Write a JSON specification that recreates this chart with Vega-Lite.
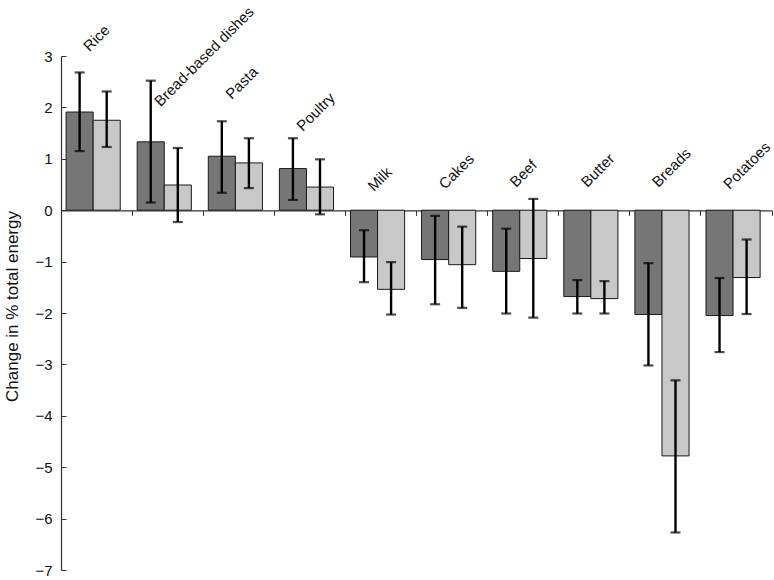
{
  "$schema": "https://vega.github.io/schema/vega-lite/v6.json",
  "autosize": "none",
  "width": 711,
  "height": 514,
  "padding": {"left": 61, "top": 56, "right": 2, "bottom": 10},
  "background": "white",
  "config": {
    "font": "Liberation Sans",
    "view": {"stroke": null}
  },
  "datasets": {
    "bars": [
      {"food": "Rice", "series": "A", "value": 1.91, "lo": 1.15, "hi": 2.68},
      {"food": "Rice", "series": "B", "value": 1.75, "lo": 1.23, "hi": 2.31},
      {"food": "Bread-based dishes", "series": "A", "value": 1.33, "lo": 0.15, "hi": 2.52},
      {"food": "Bread-based dishes", "series": "B", "value": 0.49, "lo": -0.23, "hi": 1.21},
      {"food": "Pasta", "series": "A", "value": 1.05, "lo": 0.34, "hi": 1.73},
      {"food": "Pasta", "series": "B", "value": 0.92, "lo": 0.43, "hi": 1.40},
      {"food": "Poultry", "series": "A", "value": 0.81, "lo": 0.20, "hi": 1.40},
      {"food": "Poultry", "series": "B", "value": 0.45, "lo": -0.08, "hi": 0.99},
      {"food": "Milk", "series": "A", "value": -0.91, "lo": -1.40, "hi": -0.39},
      {"food": "Milk", "series": "B", "value": -1.54, "lo": -2.03, "hi": -1.01},
      {"food": "Cakes", "series": "A", "value": -0.96, "lo": -1.83, "hi": -0.11},
      {"food": "Cakes", "series": "B", "value": -1.06, "lo": -1.90, "hi": -0.32},
      {"food": "Beef", "series": "A", "value": -1.19, "lo": -2.01, "hi": -0.36},
      {"food": "Beef", "series": "B", "value": -0.94, "lo": -2.09, "hi": 0.22},
      {"food": "Butter", "series": "A", "value": -1.68, "lo": -2.01, "hi": -1.36},
      {"food": "Butter", "series": "B", "value": -1.72, "lo": -2.01, "hi": -1.38},
      {"food": "Breads", "series": "A", "value": -2.03, "lo": -3.02, "hi": -1.03},
      {"food": "Breads", "series": "B", "value": -4.78, "lo": -6.27, "hi": -3.31},
      {"food": "Potatoes", "series": "A", "value": -2.05, "lo": -2.76, "hi": -1.32},
      {"food": "Potatoes", "series": "B", "value": -1.31, "lo": -2.02, "hi": -0.57}
    ],
    "labels": [
      {"food": "Rice", "labelLevel": 3.21},
      {"food": "Bread-based dishes", "labelLevel": 2.14},
      {"food": "Pasta", "labelLevel": 2.28},
      {"food": "Poultry", "labelLevel": 1.66},
      {"food": "Milk", "labelLevel": 0.49},
      {"food": "Cakes", "labelLevel": 0.53},
      {"food": "Beef", "labelLevel": 0.57},
      {"food": "Butter", "labelLevel": 0.57},
      {"food": "Breads", "labelLevel": 0.57},
      {"food": "Potatoes", "labelLevel": 0.53}
    ]
  },
  "encoding": {
    "x": {
      "field": "food",
      "type": "nominal",
      "sort": null,
      "scale": {"domain": ["Rice", "Bread-based dishes", "Pasta", "Poultry", "Milk", "Cakes", "Beef", "Butter", "Breads", "Potatoes"], "paddingInner": 0, "paddingOuter": 0},
      "axis": {
        "orient": "bottom",
        "offset": -359.6,
        "title": null,
        "labels": false,
        "bandPosition": 1,
        "tickSize": 5,
        "tickColor": "#333333",
        "tickWidth": 1,
        "domainColor": "#333333",
        "domainWidth": 1.2
      }
    }
  },
  "layer": [
    {
      "data": {"name": "bars"},
      "mark": {"type": "bar", "stroke": "#1a1a1a", "strokeWidth": 1},
      "encoding": {
        "xOffset": {
          "field": "series",
          "type": "nominal",
          "scale": {"domain": ["A", "B"], "paddingInner": 0, "paddingOuter": 0.313, "align": 0.3}
        },
        "y": {
          "field": "value",
          "type": "quantitative",
          "scale": {"domain": [-7, 3], "nice": false, "zero": false},
          "axis": {
            "title": "Change in % total energy",
            "titleFont": "Liberation Sans",
            "titleFontSize": 17,
            "titleFontWeight": "normal",
            "titleColor": "#111111",
            "titleX": -49,
            "titleY": 250,
            "titleAngle": -90,
            "titleAlign": "center",
            "titleBaseline": "middle",
            "values": [-7, -6, -5, -4, -3, -2, -1, 0, 1, 2, 3],
            "format": "d",
            "labelFontSize": 15,
            "labelColor": "#111111",
            "labelPadding": 14,
            "tickSize": -5,
            "tickColor": "#333333",
            "domainColor": "#333333",
            "domainWidth": 1.2,
            "grid": false
          }
        },
        "y2": {"datum": 0},
        "color": {
          "field": "series",
          "type": "nominal",
          "scale": {"domain": ["A", "B"], "range": ["#767676", "#c8c8c8"]},
          "legend": null
        }
      }
    },
    {
      "data": {"name": "bars"},
      "mark": {"type": "rule", "color": "#000000", "strokeWidth": 2.4},
      "encoding": {
        "xOffset": {"field": "series", "type": "nominal"},
        "y": {"field": "lo", "type": "quantitative"},
        "y2": {"field": "hi"}
      }
    },
    {
      "data": {"name": "bars"},
      "mark": {"type": "tick", "color": "#000000", "thickness": 2.2, "size": 10, "orient": "horizontal"},
      "encoding": {
        "xOffset": {"field": "series", "type": "nominal"},
        "y": {"field": "lo", "type": "quantitative"}
      }
    },
    {
      "data": {"name": "bars"},
      "mark": {"type": "tick", "color": "#000000", "thickness": 2.2, "size": 10, "orient": "horizontal"},
      "encoding": {
        "xOffset": {"field": "series", "type": "nominal"},
        "y": {"field": "hi", "type": "quantitative"}
      }
    },
    {
      "data": {"name": "labels"},
      "mark": {"type": "text", "align": "left", "baseline": "alphabetic", "angle": -45, "dx": -10, "fontSize": 15, "color": "#111111", "font": "Liberation Sans"},
      "encoding": {
        "y": {"field": "labelLevel", "type": "quantitative"},
        "text": {"field": "food"}
      }
    }
  ]
}
